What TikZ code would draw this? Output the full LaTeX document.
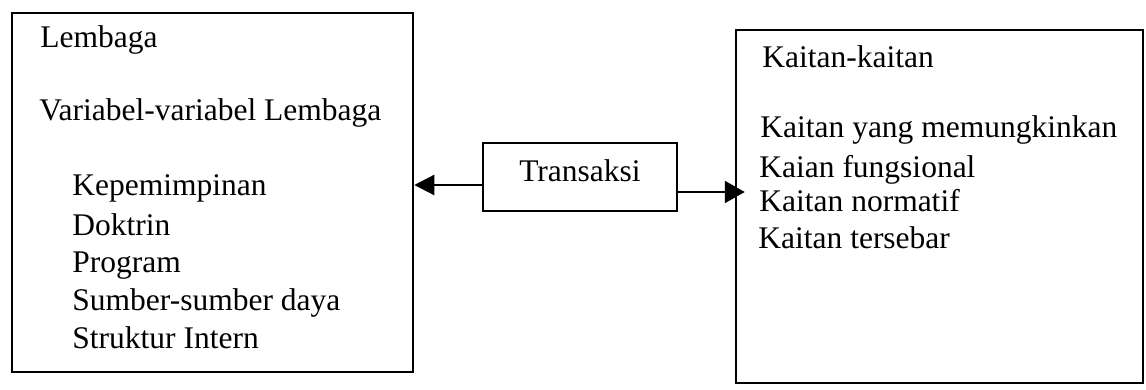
\documentclass[tikz,border=0pt]{standalone}
\usepackage{fontspec}
\setmainfont{Liberation Serif}
\usetikzlibrary{arrows.meta}
\begin{document}
\begin{tikzpicture}[x=0.5pt,y=-0.5pt,
  frame/.style={draw=black, line width=1.25pt, inner sep=0pt, rectangle},
  lbl/.style={inner sep=0pt, anchor=base west, font=\fontsize{15.75pt}{18pt}\selectfont},
  arr/.style={draw=black, line width=1.1pt}]
\useasboundingbox (0,0) rectangle (1146,390);
% boxes
\node[frame, minimum width=200.5pt, minimum height=179.5pt] (lb) at (212.5,192.5) {};
\node[frame, minimum width=203.5pt, minimum height=176.5pt] (rb) at (939.5,206.5) {};
\node[frame, minimum width=97pt, text height=19.5pt, text depth=14.5pt,
      font=\fontsize{15.75pt}{18pt}\selectfont, align=center] (tr) at (580,177) {Transaksi};
% left box texts
\node[lbl] (l1) at (40,48) {Lembaga};
\node[lbl] (l2) at (39,120) {Variabel-variabel Lembaga};
\node[lbl] (l3) at (72,195) {Kepemimpinan};
\node[lbl] (l4) at (72,235) {Doktrin};
\node[lbl] (l5) at (72,272) {Program};
\node[lbl] (l6) at (72,310) {Sumber-sumber daya};
\node[lbl] (l7) at (72,348) {Struktur Intern};
% right box texts
\node[lbl] (r1) at (762,68) {Kaitan-kaitan};
\node[lbl] (r2) at (760,138) {Kaitan yang memungkinkan};
\node[lbl] (r3) at (759,177) {Kaian fungsional};
\node[lbl] (r4) at (759,212) {Kaitan normatif};
\node[lbl] (r5) at (758,248) {Kaitan tersebar};
% connectors
\draw[arr, -{Triangle[length=10pt,width=10pt]}] ([yshift=-4pt]tr.west) -- ([yshift=-4pt]tr.west -| lb.east);
\draw[arr, -{Triangle[length=10pt,width=11pt]}, shorten >=-5pt] ([yshift=-7.5pt]tr.east) -- ([yshift=-7.5pt]tr.east -| rb.west);
\end{tikzpicture}
\end{document}
